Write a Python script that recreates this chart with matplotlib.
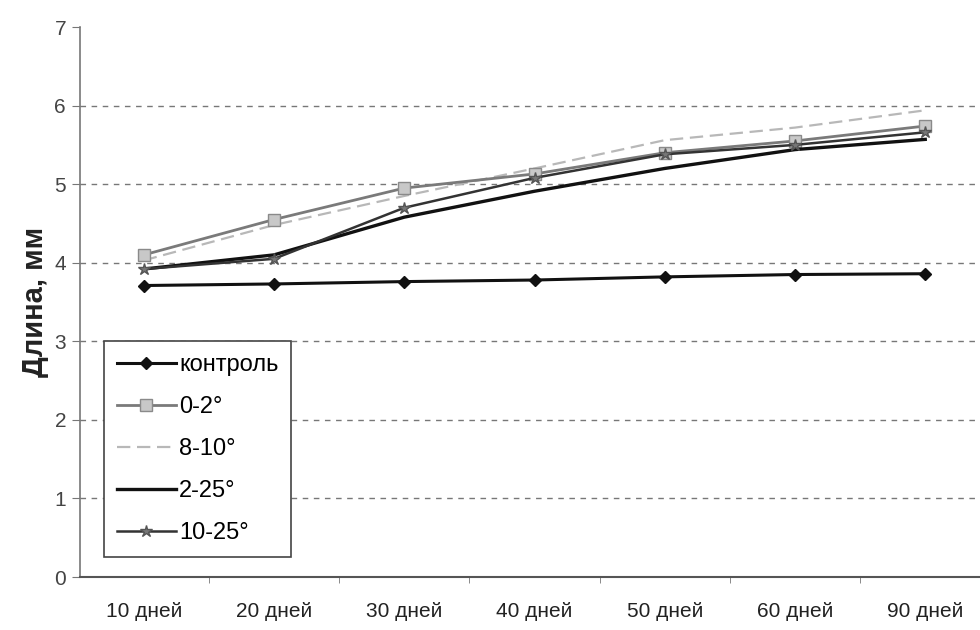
import matplotlib
matplotlib.use("Agg")
import matplotlib.pyplot as plt
from matplotlib.ticker import FixedLocator

plt.rcParams['font.family'] = ['Liberation Sans', 'DejaVu Sans']

categories = ["10 дней", "20 дней", "30 дней", "40 дней", "50 дней", "60 дней", "90 дней"]
kontrol = [3.71, 3.73, 3.76, 3.78, 3.82, 3.85, 3.86]
s_0_2 = [4.10, 4.55, 4.95, 5.13, 5.40, 5.55, 5.74]
s_8_10 = [4.03, 4.48, 4.85, 5.20, 5.56, 5.72, 5.94]
s_2_25 = [3.92, 4.10, 4.58, 4.91, 5.20, 5.44, 5.57]
s_10_25 = [3.92, 4.05, 4.70, 5.08, 5.38, 5.50, 5.66]
labels = ["контроль", "0-2°", "8-10°", "2-25°", "10-25°"]
yticks = [0, 1, 2, 3, 4, 5, 6, 7]

fig = plt.figure(figsize=(9.8, 6.3), dpi=100)
ax = fig.add_axes([0.0816, 0.0841, 0.925, 0.873])
x = list(range(len(categories)))

ax.plot(x, s_8_10, color='#b8b8b8', lw=1.6, ls=(0, (6, 3)), label=labels[2], zorder=3)
ax.plot(x, s_0_2, color='#7a7a7a', lw=2.0, marker='s', ms=8, mfc='#c8c8c8', mec='#8a8a8a',
        label=labels[1], zorder=4)
ax.plot(x, s_2_25, color='#111111', lw=2.4, label=labels[3], zorder=4)
ax.plot(x, s_10_25, color='#333333', lw=1.8, marker='*', ms=9, mfc='#777777', mec='#555555',
        label=labels[4], zorder=5)
ax.plot(x, kontrol, color='#111111', lw=2.2, marker='D', ms=6, mfc='#111111', mec='#111111',
        label=labels[0], zorder=5)

ax.set_xlim(-0.49, 6.47)
ax.set_ylim(0, 7)
ax.set_yticks(yticks)
ax.set_xticks(x)
ax.set_xticklabels(categories, fontsize=15, color='#222222')
ax.tick_params(axis='x', length=0, pad=18)
ax.xaxis.set_minor_locator(FixedLocator([i + 0.5 for i in range(-1, 7)]))
ax.tick_params(axis='x', which='minor', length=4, color='#777777', direction='out')
ax.tick_params(axis='y', length=6, color='#777777', labelsize=15, labelcolor='#444444', pad=4)

for yv in yticks[1:-1]:
    ax.axhline(yv, color='#777777', lw=1.0, ls=(0, (4, 4)), zorder=1)

for s in ['top', 'right']:
    ax.spines[s].set_visible(False)
ax.spines['left'].set_color('#777777')
ax.spines['bottom'].set_color('#555555')
ax.spines['left'].set_linewidth(1.2)
ax.spines['bottom'].set_linewidth(1.5)

ax.set_ylabel("Длина, мм", fontsize=21, fontweight='bold', labelpad=4, color='#222222')

handles, labs = ax.get_legend_handles_labels()
order = [labs.index(l) for l in labels]
leg = ax.legend([handles[i] for i in order], [labs[i] for i in order],
                loc='lower left', bbox_to_anchor=(0.026, 0.036), fontsize=17,
                frameon=True, fancybox=False, edgecolor='#444444', framealpha=1,
                handlelength=2.5, handletextpad=0.15, labelspacing=0.85,
                borderpad=0.55, borderaxespad=0)
leg.get_frame().set_linewidth(1.2)

fig.savefig("out.png", dpi=100)
